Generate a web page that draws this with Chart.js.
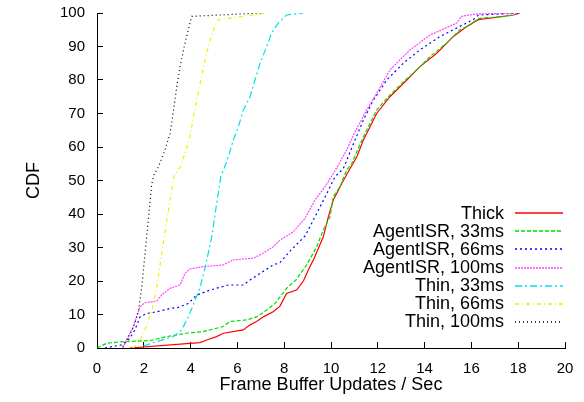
<!DOCTYPE html>
<html>
<head>
<meta charset="utf-8">
<script src="https://cdn.jsdelivr.net/npm/chart.js@4.4.1/dist/chart.umd.min.js"></script>
<style>
html,body{margin:0;padding:0;background:#fff;}
#wrap{width:584px;height:402px;}
</style>
</head>
<body>
<div id="wrap"><canvas id="c" width="584" height="402"></canvas></div>
<script>
const seriesLabels = ["Thick", "AgentISR, 33ms", "AgentISR, 66ms", "AgentISR, 100ms", "Thin, 33ms", "Thin, 66ms", "Thin, 100ms"];

const thickX = [1.41,3.97,4.4,4.69,5.11,5.4,6.25,6.54,6.82,7.11,7.53,7.82,8.1,8.53,8.82,9.1,9.25,9.67,9.89,10.1,10.46,10.81,11.1,11.38,11.95,12.52,13.24,13.8,14.52,15.23,15.8,16.3,17.8,18.08];
const thickY = [0,1.4,1.6,2.4,3.4,4.4,5.4,6.9,7.9,9.3,10.8,12.5,16.3,17.3,20.0,24.3,26.3,33.2,39.2,44.2,49.1,53.5,57,62,70,75,80,84,88,93,96,98,99.4,100];

const a33X = [0,0.41,1.12,2.26,2.98,3.83,4.54,5.4,5.68,6.4,6.82,7.25,7.61,8.1,8.5,8.96,9.39,9.67,9.96,10.1,10.38,10.67,10.88,11.38,11.95,12.45,12.95,13.66,14.23,14.94,15.51,15.94,16.3,17.5,18.08];
const a33Y = [0,1.4,1.9,2.2,3.4,4.4,4.9,6.4,7.9,8.4,9.3,11.3,13.3,17.8,20.3,24.8,30.2,35.2,39.2,45.2,48.1,53.1,55,63,71,75,78.5,83,87,91,95,96.4,98.4,99,100];

const a66X = [0.34,1.1,1.41,1.62,1.84,2.12,2.55,3.12,3.47,3.9,4.26,4.83,5.61,6.25,6.54,6.97,7.53,7.82,8.3,8.9,9.39,9.82,10.17,10.53,10.96,11.38,11.81,12.38,13.09,13.8,14.66,15.51,16.08,16.3,18.08];
const a66Y = [0,1,3,5.4,9.3,10.3,10.8,11.8,12.1,13.3,15.8,17.3,18.8,18.8,20.3,22.3,24.8,25.5,29.3,33.5,40.2,46.1,51.1,53.6,61,68,74,80,85,89,93,96,98,99.4,100];

const a100X = [1.1,1.55,1.84,2.05,2.55,2.76,3.12,3.55,3.76,3.97,4.54,5.4,5.82,6.68,6.97,7.53,7.82,8.39,8.89,9.32,9.74,10.1,10.27,10.67,11.03,11.52,11.95,12.52,13.38,14.23,15.37,15.58,16.22,18.1];
const a100Y = [0,6.4,12.3,13.5,14,15.8,17.8,18.8,22.3,23.6,24.3,24.8,26.3,26.8,27.8,30.2,32.2,34.7,38.7,44.2,48.1,52.1,54.1,59.1,64.6,71,76,83,89,93.4,97,99,99.7,100];

const t33X = [1.98,2.55,3.26,3.62,3.9,4.12,4.4,4.62,4.9,5.11,5.3,5.4,5.61,5.82,6.04,6.25,6.54,6.75,6.97,7.25,7.46,7.75,8.1,8.82];
const t33Y = [0.6,1.9,3.4,5.4,9.3,13,18,24,33,43,51.5,53,57,62,66,71,75,80,85,90,94,97,99.4,100];

const t66X = [1.54,1.77,2.05,2.34,2.55,2.76,2.98,3.19,3.28,3.55,3.76,3.97,4.12,4.26,4.47,4.62,4.83,5.04,5.18,7.3];
const t66Y = [0,1.4,5.4,11,18,28,38,47,51,54,58,63,69,74,81,86,92,96,98,100];

const t100X = [1.1,1.27,1.55,1.77,1.91,2.05,2.19,2.34,2.45,2.62,2.9,3.12,3.23,3.33,3.43,3.55,3.73,3.9,4.05,7.0];
const t100Y = [0.4,2.4,6,11,18,28,38,49,52,54,59,64,69,74,79,84,90,95,99,100];

const xTicks = [0,2,4,6,8,10,12,14,16,18,20];
const yTicks = [0,10,20,30,40,50,60,70,80,90,100];

const FONT = "'Liberation Sans', Arial, Helvetica, sans-serif";

function pts(xs, ys){ return xs.map((x,i)=>({x:x, y:ys[i]})); }

const styles = [
  {color:'#ff0000', dash:[]},
  {color:'#00dd00', dash:[4,2]},
  {color:'#0000ff', dash:[2,3]},
  {color:'#ff44ff', dash:[2,1]},
  {color:'#00e0f0', dash:[7,3,2,3]},
  {color:'#eeee00', dash:[4,3,1,3]},
  {color:'#000000', dash:[1,3]}
];
const allX = [thickX,a33X,a66X,a100X,t33X,t66X,t100X];
const allY = [thickY,a33Y,a66Y,a100Y,t33Y,t66Y,t100Y];

const datasets = seriesLabels.map((lab,i)=>({
  label: lab,
  data: pts(allX[i], allY[i]),
  borderColor: styles[i].color,
  backgroundColor: styles[i].color,
  borderDash: styles[i].dash,
  borderWidth: 1.2,
  pointRadius: 0,
  tension: 0,
  fill: false,
  order: seriesLabels.length - i
}));

const legendPlugin = {
  id: 'gpLegend',
  afterDatasetsDraw(chart){
    const ctx = chart.ctx;
    ctx.save();
    ctx.font = "18px " + FONT;
    ctx.textAlign = 'right';
    ctx.textBaseline = 'middle';
    const y0 = 213.3, dy = 18.07;
    chart.data.datasets.forEach((ds,i)=>{
      const y = y0 + i*dy;
      ctx.fillStyle = '#000';
      ctx.fillText(ds.label, 504, y + 0.5);
      ctx.beginPath();
      ctx.strokeStyle = ds.borderColor;
      ctx.lineWidth = 1.5;
      ctx.setLineDash(ds.borderDash);
      ctx.moveTo(515, Math.round(y));
      ctx.lineTo(563, Math.round(y));
      ctx.stroke();
    });
    ctx.restore();
  }
};

new Chart(document.getElementById('c'), {
  type: 'line',
  data: { datasets: datasets },
  options: {
    responsive: false,
    animation: false,
    devicePixelRatio: 1,
    layout: { padding: { left: 0, top: 13, right: 19, bottom: 0 } },
    plugins: { legend: { display: false }, tooltip: { enabled: false } },
    scales: {
      x: {
        type: 'linear',
        min: 0, max: 20,
        afterBuildTicks(scale){ scale.ticks = xTicks.map(v=>({value:v})); },
        afterFit(scale){ scale.height = 54; scale.paddingLeft = 0; scale.paddingRight = 0; },
        border: { display: true, color: '#000', width: 1 },
        grid: { drawOnChartArea: false, drawTicks: true, tickLength: -6, color: '#000' },
        ticks: { color: '#000', font: { family: FONT, size: 15 }, padding: 18, maxRotation: 0 },
        title: { display: true, text: 'Frame Buffer Updates / Sec', color: '#000', font: { family: FONT, size: 18 }, padding: { top: 0, bottom: 6 } }
      },
      y: {
        type: 'linear',
        min: 0, max: 100,
        afterBuildTicks(scale){ scale.ticks = yTicks.map(v=>({value:v})); },
        afterFit(scale){ scale.width = 97; scale.paddingTop = 0; scale.paddingBottom = 0; },
        border: { display: true, color: '#000', width: 1 },
        grid: { drawOnChartArea: false, drawTicks: true, tickLength: -6, color: '#000' },
        ticks: { color: '#000', font: { family: FONT, size: 15 }, padding: 18 },
        title: { display: true, text: 'CDF', color: '#000', font: { family: FONT, size: 18 }, padding: { top: 23, bottom: 0 } }
      }
    }
  },
  plugins: [legendPlugin]
});
</script>
</body>
</html>
